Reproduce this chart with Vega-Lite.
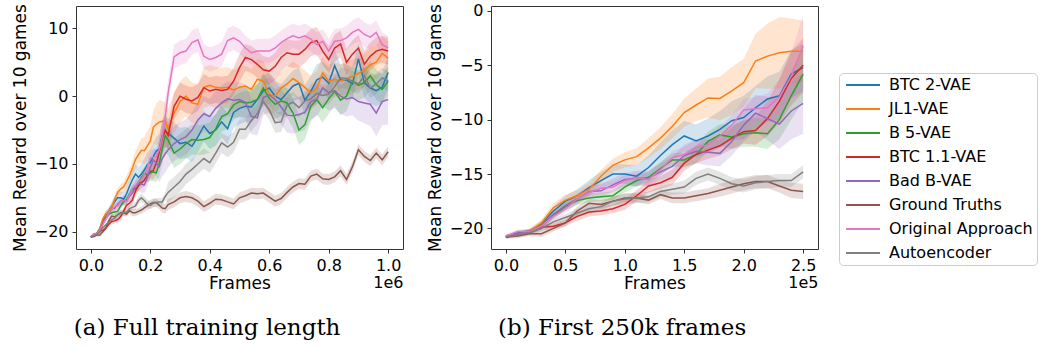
{
  "$schema": "https://vega.github.io/schema/vega-lite/v6.json",
  "background": "white",
  "padding": {"left": 10, "top": 2, "right": 0, "bottom": 0},
  "datasets": {
    "runs": [
{"s":"BTC 2-VAE","f":0,"m":-20.77,"lo":-20.92,"hi":-20.62},
{"s":"BTC 2-VAE","f":1,"m":-20.4,"lo":-20.6,"hi":-20.2},
{"s":"BTC 2-VAE","f":2,"m":-20.25,"lo":-20.45,"hi":-20.05},
{"s":"BTC 2-VAE","f":3,"m":-19.6,"lo":-19.9,"hi":-19.3},
{"s":"BTC 2-VAE","f":4,"m":-18.4,"lo":-18.8,"hi":-18.0},
{"s":"BTC 2-VAE","f":5,"m":-17.5,"lo":-18.0,"hi":-17.0},
{"s":"BTC 2-VAE","f":6,"m":-17.0,"lo":-17.6,"hi":-16.4},
{"s":"BTC 2-VAE","f":7,"m":-16.25,"lo":-16.95,"hi":-15.55},
{"s":"BTC 2-VAE","f":8,"m":-15.6,"lo":-16.4,"hi":-14.8},
{"s":"BTC 2-VAE","f":9,"m":-15.0,"lo":-15.9,"hi":-14.1},
{"s":"BTC 2-VAE","f":10,"m":-15.0,"lo":-15.9,"hi":-14.1},
{"s":"BTC 2-VAE","f":11,"m":-15.2,"lo":-16.2,"hi":-14.2},
{"s":"BTC 2-VAE","f":12,"m":-14.4,"lo":-15.5,"hi":-13.3},
{"s":"BTC 2-VAE","f":13,"m":-13.3,"lo":-14.5,"hi":-12.1},
{"s":"BTC 2-VAE","f":14,"m":-12.3,"lo":-13.6,"hi":-11.0},
{"s":"BTC 2-VAE","f":15,"m":-11.5,"lo":-12.9,"hi":-10.1},
{"s":"BTC 2-VAE","f":16,"m":-11.95,"lo":-13.45,"hi":-10.45},
{"s":"BTC 2-VAE","f":17,"m":-11.5,"lo":-13.1,"hi":-9.9},
{"s":"BTC 2-VAE","f":18,"m":-10.9,"lo":-12.6,"hi":-9.2},
{"s":"BTC 2-VAE","f":19,"m":-10.1,"lo":-11.9,"hi":-8.3},
{"s":"BTC 2-VAE","f":20,"m":-9.8,"lo":-11.8,"hi":-7.8},
{"s":"BTC 2-VAE","f":21,"m":-8.9,"lo":-10.9,"hi":-6.9},
{"s":"BTC 2-VAE","f":22,"m":-8.1,"lo":-10.2,"hi":-6.0},
{"s":"BTC 2-VAE","f":23,"m":-7.8,"lo":-10.0,"hi":-5.6},
{"s":"BTC 2-VAE","f":24,"m":-5.8,"lo":-8.0,"hi":-3.6},
{"s":"BTC 2-VAE","f":25,"m":-5.2,"lo":-7.4,"hi":-3.0},
{"s":"BTC 2-VAE","f":26,"m":-5.5,"lo":-7.8,"hi":-3.2},
{"s":"BTC 2-VAE","f":28,"m":-6.2,"lo":-8.5,"hi":-3.9},
{"s":"BTC 2-VAE","f":30,"m":-7.0,"lo":-9.3,"hi":-4.7},
{"s":"BTC 2-VAE","f":32,"m":-6.8,"lo":-9.1,"hi":-4.5},
{"s":"BTC 2-VAE","f":34,"m":-7.4,"lo":-9.7,"hi":-5.1},
{"s":"BTC 2-VAE","f":36,"m":-6.0,"lo":-8.3,"hi":-3.7},
{"s":"BTC 2-VAE","f":38,"m":-4.4,"lo":-6.7,"hi":-2.1},
{"s":"BTC 2-VAE","f":40,"m":-5.5,"lo":-7.8,"hi":-3.2},
{"s":"BTC 2-VAE","f":42,"m":-5.0,"lo":-7.3,"hi":-2.7},
{"s":"BTC 2-VAE","f":44,"m":-3.8,"lo":-6.1,"hi":-1.5},
{"s":"BTC 2-VAE","f":46,"m":-4.8,"lo":-7.1,"hi":-2.5},
{"s":"BTC 2-VAE","f":48,"m":-2.4,"lo":-4.7,"hi":-0.1},
{"s":"BTC 2-VAE","f":50,"m":-1.8,"lo":-4.1,"hi":0.5},
{"s":"BTC 2-VAE","f":52,"m":-1.5,"lo":-3.8,"hi":0.8},
{"s":"BTC 2-VAE","f":54,"m":-1.6,"lo":-3.9,"hi":0.7},
{"s":"BTC 2-VAE","f":56,"m":-0.5,"lo":-2.8,"hi":1.8},
{"s":"BTC 2-VAE","f":58,"m":0.8,"lo":-1.5,"hi":3.1},
{"s":"BTC 2-VAE","f":60,"m":1.2,"lo":-1.1,"hi":3.5},
{"s":"BTC 2-VAE","f":62,"m":0.0,"lo":-2.3,"hi":2.3},
{"s":"BTC 2-VAE","f":64,"m":-0.5,"lo":-2.8,"hi":1.8},
{"s":"BTC 2-VAE","f":66,"m":0.5,"lo":-1.8,"hi":2.8},
{"s":"BTC 2-VAE","f":68,"m":1.5,"lo":-0.8,"hi":3.8},
{"s":"BTC 2-VAE","f":70,"m":1.9,"lo":-0.4,"hi":4.2},
{"s":"BTC 2-VAE","f":72,"m":-0.6,"lo":-2.9,"hi":1.7},
{"s":"BTC 2-VAE","f":74,"m":0.7,"lo":-1.6,"hi":3.0},
{"s":"BTC 2-VAE","f":76,"m":2.4,"lo":0.1,"hi":4.7},
{"s":"BTC 2-VAE","f":78,"m":2.8,"lo":0.5,"hi":5.1},
{"s":"BTC 2-VAE","f":80,"m":1.9,"lo":-0.4,"hi":4.2},
{"s":"BTC 2-VAE","f":82,"m":4.5,"lo":2.2,"hi":6.8},
{"s":"BTC 2-VAE","f":84,"m":2.4,"lo":0.1,"hi":4.7},
{"s":"BTC 2-VAE","f":86,"m":2.4,"lo":0.1,"hi":4.7},
{"s":"BTC 2-VAE","f":88,"m":1.8,"lo":-0.5,"hi":4.1},
{"s":"BTC 2-VAE","f":90,"m":5.5,"lo":3.2,"hi":7.8},
{"s":"BTC 2-VAE","f":92,"m":2.0,"lo":-0.3,"hi":4.3},
{"s":"BTC 2-VAE","f":94,"m":1.2,"lo":-1.1,"hi":3.5},
{"s":"BTC 2-VAE","f":96,"m":0.8,"lo":-1.5,"hi":3.1},
{"s":"BTC 2-VAE","f":98,"m":1.3,"lo":-1.0,"hi":3.6},
{"s":"BTC 2-VAE","f":100,"m":3.5,"lo":1.2,"hi":5.8},
{"s":"JL1-VAE","f":0,"m":-20.77,"lo":-20.92,"hi":-20.62},
{"s":"JL1-VAE","f":1,"m":-20.55,"lo":-20.75,"hi":-20.35},
{"s":"JL1-VAE","f":2,"m":-20.25,"lo":-20.5,"hi":-20.0},
{"s":"JL1-VAE","f":3,"m":-19.5,"lo":-19.8,"hi":-19.2},
{"s":"JL1-VAE","f":4,"m":-18.1,"lo":-18.5,"hi":-17.7},
{"s":"JL1-VAE","f":5,"m":-17.4,"lo":-17.9,"hi":-16.9},
{"s":"JL1-VAE","f":6,"m":-17.0,"lo":-17.5,"hi":-16.5},
{"s":"JL1-VAE","f":7,"m":-16.4,"lo":-17.0,"hi":-15.8},
{"s":"JL1-VAE","f":8,"m":-15.2,"lo":-15.8,"hi":-14.6},
{"s":"JL1-VAE","f":9,"m":-14.2,"lo":-14.8,"hi":-13.6},
{"s":"JL1-VAE","f":10,"m":-13.7,"lo":-14.4,"hi":-13.0},
{"s":"JL1-VAE","f":11,"m":-13.4,"lo":-14.2,"hi":-12.6},
{"s":"JL1-VAE","f":12,"m":-12.6,"lo":-13.5,"hi":-11.7},
{"s":"JL1-VAE","f":13,"m":-11.7,"lo":-12.7,"hi":-10.7},
{"s":"JL1-VAE","f":14,"m":-10.6,"lo":-11.7,"hi":-9.5},
{"s":"JL1-VAE","f":15,"m":-9.35,"lo":-10.65,"hi":-8.05},
{"s":"JL1-VAE","f":16,"m":-8.65,"lo":-10.15,"hi":-7.15},
{"s":"JL1-VAE","f":17,"m":-8.0,"lo":-9.8,"hi":-6.2},
{"s":"JL1-VAE","f":18,"m":-8.05,"lo":-10.05,"hi":-6.05},
{"s":"JL1-VAE","f":19,"m":-7.35,"lo":-9.55,"hi":-5.15},
{"s":"JL1-VAE","f":20,"m":-6.6,"lo":-8.8,"hi":-4.4},
{"s":"JL1-VAE","f":21,"m":-4.6,"lo":-7.1,"hi":-2.1},
{"s":"JL1-VAE","f":22,"m":-4.15,"lo":-7.15,"hi":-1.15},
{"s":"JL1-VAE","f":23,"m":-3.85,"lo":-7.15,"hi":-0.55},
{"s":"JL1-VAE","f":24,"m":-3.7,"lo":-6.7,"hi":-0.7},
{"s":"JL1-VAE","f":25,"m":-3.7,"lo":-6.5,"hi":-0.9},
{"s":"JL1-VAE","f":26,"m":-4.8,"lo":-7.8,"hi":-1.8},
{"s":"JL1-VAE","f":28,"m":-2.5,"lo":-5.5,"hi":0.5},
{"s":"JL1-VAE","f":30,"m":-0.8,"lo":-3.8,"hi":2.2},
{"s":"JL1-VAE","f":32,"m":0.0,"lo":-3.0,"hi":3.0},
{"s":"JL1-VAE","f":34,"m":-1.0,"lo":-4.0,"hi":2.0},
{"s":"JL1-VAE","f":36,"m":-1.2,"lo":-4.2,"hi":1.8},
{"s":"JL1-VAE","f":38,"m":1.3,"lo":-1.7,"hi":4.3},
{"s":"JL1-VAE","f":40,"m":1.6,"lo":-1.4,"hi":4.6},
{"s":"JL1-VAE","f":42,"m":1.3,"lo":-1.7,"hi":4.3},
{"s":"JL1-VAE","f":44,"m":1.2,"lo":-1.8,"hi":4.2},
{"s":"JL1-VAE","f":46,"m":1.3,"lo":-1.7,"hi":4.3},
{"s":"JL1-VAE","f":48,"m":0.9,"lo":-2.1,"hi":3.9},
{"s":"JL1-VAE","f":50,"m":1.3,"lo":-1.7,"hi":4.3},
{"s":"JL1-VAE","f":52,"m":1.5,"lo":-1.5,"hi":4.5},
{"s":"JL1-VAE","f":54,"m":1.0,"lo":-2.0,"hi":4.0},
{"s":"JL1-VAE","f":56,"m":2.5,"lo":-0.5,"hi":5.5},
{"s":"JL1-VAE","f":58,"m":2.2,"lo":-0.8,"hi":5.2},
{"s":"JL1-VAE","f":60,"m":0.3,"lo":-2.7,"hi":3.3},
{"s":"JL1-VAE","f":62,"m":0.0,"lo":-2.5,"hi":2.5},
{"s":"JL1-VAE","f":64,"m":1.2,"lo":-1.3,"hi":3.7},
{"s":"JL1-VAE","f":66,"m":1.8,"lo":-0.7,"hi":4.3},
{"s":"JL1-VAE","f":68,"m":2.6,"lo":0.1,"hi":5.1},
{"s":"JL1-VAE","f":70,"m":2.0,"lo":-0.5,"hi":4.5},
{"s":"JL1-VAE","f":72,"m":1.3,"lo":-1.2,"hi":3.8},
{"s":"JL1-VAE","f":74,"m":0.5,"lo":-2.0,"hi":3.0},
{"s":"JL1-VAE","f":76,"m":1.2,"lo":-1.3,"hi":3.7},
{"s":"JL1-VAE","f":78,"m":3.4,"lo":0.9,"hi":5.9},
{"s":"JL1-VAE","f":80,"m":2.2,"lo":-0.3,"hi":4.7},
{"s":"JL1-VAE","f":82,"m":2.5,"lo":0.0,"hi":5.0},
{"s":"JL1-VAE","f":84,"m":2.2,"lo":-0.3,"hi":4.7},
{"s":"JL1-VAE","f":86,"m":2.6,"lo":0.1,"hi":5.1},
{"s":"JL1-VAE","f":88,"m":2.9,"lo":0.4,"hi":5.4},
{"s":"JL1-VAE","f":90,"m":3.4,"lo":0.9,"hi":5.9},
{"s":"JL1-VAE","f":92,"m":3.8,"lo":1.3,"hi":6.3},
{"s":"JL1-VAE","f":94,"m":4.6,"lo":2.1,"hi":7.1},
{"s":"JL1-VAE","f":96,"m":5.0,"lo":2.5,"hi":7.5},
{"s":"JL1-VAE","f":98,"m":6.3,"lo":3.8,"hi":8.8},
{"s":"JL1-VAE","f":100,"m":5.6,"lo":3.1,"hi":8.1},
{"s":"B 5-VAE","f":0,"m":-20.77,"lo":-20.92,"hi":-20.62},
{"s":"B 5-VAE","f":1,"m":-20.5,"lo":-20.7,"hi":-20.3},
{"s":"B 5-VAE","f":2,"m":-20.3,"lo":-20.5,"hi":-20.1},
{"s":"B 5-VAE","f":3,"m":-19.8,"lo":-20.1,"hi":-19.5},
{"s":"B 5-VAE","f":4,"m":-18.8,"lo":-19.1,"hi":-18.5},
{"s":"B 5-VAE","f":5,"m":-18.0,"lo":-18.4,"hi":-17.6},
{"s":"B 5-VAE","f":6,"m":-17.45,"lo":-17.85,"hi":-17.05},
{"s":"B 5-VAE","f":7,"m":-17.2,"lo":-17.6,"hi":-16.8},
{"s":"B 5-VAE","f":8,"m":-17.1,"lo":-17.5,"hi":-16.7},
{"s":"B 5-VAE","f":9,"m":-17.0,"lo":-17.4,"hi":-16.6},
{"s":"B 5-VAE","f":10,"m":-16.2,"lo":-16.7,"hi":-15.7},
{"s":"B 5-VAE","f":11,"m":-15.6,"lo":-16.1,"hi":-15.1},
{"s":"B 5-VAE","f":12,"m":-15.3,"lo":-15.8,"hi":-14.8},
{"s":"B 5-VAE","f":13,"m":-14.5,"lo":-15.1,"hi":-13.9},
{"s":"B 5-VAE","f":14,"m":-13.7,"lo":-14.3,"hi":-13.1},
{"s":"B 5-VAE","f":15,"m":-13.7,"lo":-14.4,"hi":-13.0},
{"s":"B 5-VAE","f":16,"m":-13.2,"lo":-14.0,"hi":-12.4},
{"s":"B 5-VAE","f":17,"m":-12.0,"lo":-12.9,"hi":-11.1},
{"s":"B 5-VAE","f":18,"m":-11.4,"lo":-12.4,"hi":-10.4},
{"s":"B 5-VAE","f":19,"m":-11.6,"lo":-12.7,"hi":-10.5},
{"s":"B 5-VAE","f":20,"m":-11.3,"lo":-12.5,"hi":-10.1},
{"s":"B 5-VAE","f":21,"m":-11.2,"lo":-12.5,"hi":-9.9},
{"s":"B 5-VAE","f":22,"m":-11.3,"lo":-12.7,"hi":-9.9},
{"s":"B 5-VAE","f":23,"m":-10.0,"lo":-11.8,"hi":-8.2},
{"s":"B 5-VAE","f":24,"m":-7.8,"lo":-10.0,"hi":-5.6},
{"s":"B 5-VAE","f":25,"m":-5.8,"lo":-8.3,"hi":-3.3},
{"s":"B 5-VAE","f":26,"m":-6.5,"lo":-8.7,"hi":-4.3},
{"s":"B 5-VAE","f":28,"m":-8.4,"lo":-10.6,"hi":-6.2},
{"s":"B 5-VAE","f":30,"m":-7.8,"lo":-10.0,"hi":-5.6},
{"s":"B 5-VAE","f":32,"m":-7.0,"lo":-9.2,"hi":-4.8},
{"s":"B 5-VAE","f":34,"m":-6.4,"lo":-8.6,"hi":-4.2},
{"s":"B 5-VAE","f":36,"m":-6.5,"lo":-8.7,"hi":-4.3},
{"s":"B 5-VAE","f":38,"m":-6.4,"lo":-8.6,"hi":-4.2},
{"s":"B 5-VAE","f":40,"m":-6.1,"lo":-8.3,"hi":-3.9},
{"s":"B 5-VAE","f":42,"m":-4.8,"lo":-7.0,"hi":-2.6},
{"s":"B 5-VAE","f":44,"m":-3.0,"lo":-5.2,"hi":-0.8},
{"s":"B 5-VAE","f":46,"m":-2.6,"lo":-4.8,"hi":-0.4},
{"s":"B 5-VAE","f":48,"m":-1.3,"lo":-3.5,"hi":0.9},
{"s":"B 5-VAE","f":50,"m":-0.8,"lo":-3.0,"hi":1.4},
{"s":"B 5-VAE","f":52,"m":-1.0,"lo":-3.2,"hi":1.2},
{"s":"B 5-VAE","f":54,"m":-0.9,"lo":-3.1,"hi":1.3},
{"s":"B 5-VAE","f":56,"m":-0.5,"lo":-2.7,"hi":1.7},
{"s":"B 5-VAE","f":58,"m":1.2,"lo":-1.0,"hi":3.4},
{"s":"B 5-VAE","f":60,"m":-0.3,"lo":-2.5,"hi":1.9},
{"s":"B 5-VAE","f":62,"m":-1.2,"lo":-3.4,"hi":1.0},
{"s":"B 5-VAE","f":64,"m":-0.7,"lo":-2.9,"hi":1.5},
{"s":"B 5-VAE","f":66,"m":-1.0,"lo":-3.2,"hi":1.2},
{"s":"B 5-VAE","f":68,"m":-2.5,"lo":-4.7,"hi":-0.3},
{"s":"B 5-VAE","f":70,"m":-5.0,"lo":-7.2,"hi":-2.8},
{"s":"B 5-VAE","f":72,"m":-4.2,"lo":-6.4,"hi":-2.0},
{"s":"B 5-VAE","f":74,"m":-1.5,"lo":-3.7,"hi":0.7},
{"s":"B 5-VAE","f":76,"m":-0.5,"lo":-2.7,"hi":1.7},
{"s":"B 5-VAE","f":78,"m":-1.7,"lo":-3.9,"hi":0.5},
{"s":"B 5-VAE","f":80,"m":-0.4,"lo":-2.6,"hi":1.8},
{"s":"B 5-VAE","f":82,"m":0.7,"lo":-1.5,"hi":2.9},
{"s":"B 5-VAE","f":84,"m":-0.6,"lo":-2.8,"hi":1.6},
{"s":"B 5-VAE","f":86,"m":0.0,"lo":-2.2,"hi":2.2},
{"s":"B 5-VAE","f":88,"m":2.2,"lo":0.0,"hi":4.4},
{"s":"B 5-VAE","f":90,"m":1.6,"lo":-0.6,"hi":3.8},
{"s":"B 5-VAE","f":92,"m":2.0,"lo":-0.2,"hi":4.2},
{"s":"B 5-VAE","f":94,"m":3.0,"lo":0.8,"hi":5.2},
{"s":"B 5-VAE","f":96,"m":1.7,"lo":-0.5,"hi":3.9},
{"s":"B 5-VAE","f":98,"m":1.0,"lo":-1.2,"hi":3.2},
{"s":"B 5-VAE","f":100,"m":2.2,"lo":0.0,"hi":4.4},
{"s":"BTC 1.1-VAE","f":0,"m":-20.77,"lo":-20.92,"hi":-20.62},
{"s":"BTC 1.1-VAE","f":1,"m":-20.5,"lo":-20.7,"hi":-20.3},
{"s":"BTC 1.1-VAE","f":2,"m":-20.3,"lo":-20.5,"hi":-20.1},
{"s":"BTC 1.1-VAE","f":3,"m":-19.9,"lo":-20.2,"hi":-19.6},
{"s":"BTC 1.1-VAE","f":4,"m":-19.8,"lo":-20.1,"hi":-19.5},
{"s":"BTC 1.1-VAE","f":5,"m":-19.5,"lo":-19.8,"hi":-19.2},
{"s":"BTC 1.1-VAE","f":6,"m":-18.9,"lo":-19.3,"hi":-18.5},
{"s":"BTC 1.1-VAE","f":7,"m":-18.5,"lo":-18.9,"hi":-18.1},
{"s":"BTC 1.1-VAE","f":8,"m":-18.4,"lo":-18.8,"hi":-18.0},
{"s":"BTC 1.1-VAE","f":9,"m":-18.2,"lo":-18.6,"hi":-17.8},
{"s":"BTC 1.1-VAE","f":10,"m":-17.8,"lo":-18.3,"hi":-17.3},
{"s":"BTC 1.1-VAE","f":11,"m":-17.0,"lo":-17.5,"hi":-16.5},
{"s":"BTC 1.1-VAE","f":12,"m":-16.1,"lo":-16.7,"hi":-15.5},
{"s":"BTC 1.1-VAE","f":13,"m":-15.8,"lo":-16.4,"hi":-15.2},
{"s":"BTC 1.1-VAE","f":14,"m":-15.3,"lo":-16.0,"hi":-14.6},
{"s":"BTC 1.1-VAE","f":15,"m":-14.0,"lo":-14.7,"hi":-13.3},
{"s":"BTC 1.1-VAE","f":16,"m":-13.2,"lo":-14.0,"hi":-12.4},
{"s":"BTC 1.1-VAE","f":17,"m":-12.8,"lo":-13.6,"hi":-12.0},
{"s":"BTC 1.1-VAE","f":18,"m":-12.4,"lo":-13.3,"hi":-11.5},
{"s":"BTC 1.1-VAE","f":19,"m":-11.7,"lo":-12.7,"hi":-10.7},
{"s":"BTC 1.1-VAE","f":20,"m":-11.1,"lo":-12.2,"hi":-10.0},
{"s":"BTC 1.1-VAE","f":21,"m":-11.0,"lo":-12.3,"hi":-9.7},
{"s":"BTC 1.1-VAE","f":22,"m":-9.9,"lo":-11.5,"hi":-8.3},
{"s":"BTC 1.1-VAE","f":23,"m":-8.3,"lo":-10.3,"hi":-6.3},
{"s":"BTC 1.1-VAE","f":24,"m":-6.2,"lo":-8.7,"hi":-3.7},
{"s":"BTC 1.1-VAE","f":25,"m":-5.0,"lo":-7.5,"hi":-2.5},
{"s":"BTC 1.1-VAE","f":26,"m":-5.8,"lo":-7.8,"hi":-3.8},
{"s":"BTC 1.1-VAE","f":28,"m":-1.5,"lo":-3.5,"hi":0.5},
{"s":"BTC 1.1-VAE","f":30,"m":0.0,"lo":-2.0,"hi":2.0},
{"s":"BTC 1.1-VAE","f":32,"m":-0.45,"lo":-2.45,"hi":1.55},
{"s":"BTC 1.1-VAE","f":34,"m":-0.7,"lo":-2.7,"hi":1.3},
{"s":"BTC 1.1-VAE","f":36,"m":-0.2,"lo":-2.2,"hi":1.8},
{"s":"BTC 1.1-VAE","f":38,"m":1.25,"lo":-0.75,"hi":3.25},
{"s":"BTC 1.1-VAE","f":40,"m":0.75,"lo":-1.25,"hi":2.75},
{"s":"BTC 1.1-VAE","f":42,"m":1.0,"lo":-1.0,"hi":3.0},
{"s":"BTC 1.1-VAE","f":44,"m":0.85,"lo":-1.15,"hi":2.85},
{"s":"BTC 1.1-VAE","f":46,"m":1.0,"lo":-1.0,"hi":3.0},
{"s":"BTC 1.1-VAE","f":48,"m":2.2,"lo":0.2,"hi":4.2},
{"s":"BTC 1.1-VAE","f":50,"m":4.2,"lo":2.2,"hi":6.2},
{"s":"BTC 1.1-VAE","f":52,"m":5.7,"lo":3.7,"hi":7.7},
{"s":"BTC 1.1-VAE","f":54,"m":5.4,"lo":3.4,"hi":7.4},
{"s":"BTC 1.1-VAE","f":56,"m":4.7,"lo":2.7,"hi":6.7},
{"s":"BTC 1.1-VAE","f":58,"m":3.9,"lo":1.9,"hi":5.9},
{"s":"BTC 1.1-VAE","f":60,"m":3.7,"lo":1.7,"hi":5.7},
{"s":"BTC 1.1-VAE","f":62,"m":4.4,"lo":2.4,"hi":6.4},
{"s":"BTC 1.1-VAE","f":64,"m":5.7,"lo":3.7,"hi":7.7},
{"s":"BTC 1.1-VAE","f":66,"m":6.4,"lo":4.4,"hi":8.4},
{"s":"BTC 1.1-VAE","f":68,"m":6.2,"lo":4.2,"hi":8.2},
{"s":"BTC 1.1-VAE","f":70,"m":6.2,"lo":4.2,"hi":8.2},
{"s":"BTC 1.1-VAE","f":72,"m":6.9,"lo":4.9,"hi":8.9},
{"s":"BTC 1.1-VAE","f":74,"m":7.9,"lo":5.9,"hi":9.9},
{"s":"BTC 1.1-VAE","f":76,"m":8.2,"lo":6.2,"hi":10.2},
{"s":"BTC 1.1-VAE","f":78,"m":6.65,"lo":4.65,"hi":8.65},
{"s":"BTC 1.1-VAE","f":80,"m":5.4,"lo":3.4,"hi":7.4},
{"s":"BTC 1.1-VAE","f":82,"m":7.1,"lo":5.1,"hi":9.1},
{"s":"BTC 1.1-VAE","f":84,"m":7.7,"lo":5.7,"hi":9.7},
{"s":"BTC 1.1-VAE","f":86,"m":5.0,"lo":3.0,"hi":7.0},
{"s":"BTC 1.1-VAE","f":88,"m":6.2,"lo":4.2,"hi":8.2},
{"s":"BTC 1.1-VAE","f":90,"m":7.1,"lo":5.1,"hi":9.1},
{"s":"BTC 1.1-VAE","f":92,"m":4.7,"lo":2.7,"hi":6.7},
{"s":"BTC 1.1-VAE","f":94,"m":5.9,"lo":3.9,"hi":7.9},
{"s":"BTC 1.1-VAE","f":96,"m":6.65,"lo":4.65,"hi":8.65},
{"s":"BTC 1.1-VAE","f":98,"m":6.9,"lo":4.9,"hi":8.9},
{"s":"BTC 1.1-VAE","f":100,"m":6.65,"lo":4.65,"hi":8.65},
{"s":"Bad B-VAE","f":0,"m":-20.77,"lo":-20.92,"hi":-20.62},
{"s":"Bad B-VAE","f":1,"m":-20.5,"lo":-20.7,"hi":-20.3},
{"s":"Bad B-VAE","f":2,"m":-20.3,"lo":-20.5,"hi":-20.1},
{"s":"Bad B-VAE","f":3,"m":-19.8,"lo":-20.1,"hi":-19.5},
{"s":"Bad B-VAE","f":4,"m":-18.7,"lo":-19.1,"hi":-18.3},
{"s":"Bad B-VAE","f":5,"m":-17.9,"lo":-18.3,"hi":-17.5},
{"s":"Bad B-VAE","f":6,"m":-17.3,"lo":-17.8,"hi":-16.8},
{"s":"Bad B-VAE","f":7,"m":-16.6,"lo":-17.1,"hi":-16.1},
{"s":"Bad B-VAE","f":8,"m":-16.55,"lo":-17.15,"hi":-15.95},
{"s":"Bad B-VAE","f":9,"m":-16.0,"lo":-16.6,"hi":-15.4},
{"s":"Bad B-VAE","f":10,"m":-15.5,"lo":-16.1,"hi":-14.9},
{"s":"Bad B-VAE","f":11,"m":-15.4,"lo":-16.1,"hi":-14.7},
{"s":"Bad B-VAE","f":12,"m":-15.4,"lo":-16.1,"hi":-14.7},
{"s":"Bad B-VAE","f":13,"m":-14.8,"lo":-15.6,"hi":-14.0},
{"s":"Bad B-VAE","f":14,"m":-14.3,"lo":-15.2,"hi":-13.4},
{"s":"Bad B-VAE","f":15,"m":-13.3,"lo":-14.3,"hi":-12.3},
{"s":"Bad B-VAE","f":16,"m":-12.9,"lo":-14.0,"hi":-11.8},
{"s":"Bad B-VAE","f":17,"m":-13.0,"lo":-14.2,"hi":-11.8},
{"s":"Bad B-VAE","f":18,"m":-13.1,"lo":-14.3,"hi":-11.9},
{"s":"Bad B-VAE","f":19,"m":-12.0,"lo":-13.3,"hi":-10.7},
{"s":"Bad B-VAE","f":20,"m":-10.5,"lo":-12.0,"hi":-9.0},
{"s":"Bad B-VAE","f":21,"m":-9.4,"lo":-11.1,"hi":-7.7},
{"s":"Bad B-VAE","f":22,"m":-9.9,"lo":-11.9,"hi":-7.9},
{"s":"Bad B-VAE","f":23,"m":-10.4,"lo":-12.7,"hi":-8.1},
{"s":"Bad B-VAE","f":24,"m":-9.2,"lo":-11.8,"hi":-6.6},
{"s":"Bad B-VAE","f":25,"m":-8.5,"lo":-11.3,"hi":-5.7},
{"s":"Bad B-VAE","f":26,"m":-7.9,"lo":-10.5,"hi":-5.3},
{"s":"Bad B-VAE","f":28,"m":-7.0,"lo":-9.6,"hi":-4.4},
{"s":"Bad B-VAE","f":30,"m":-6.4,"lo":-9.0,"hi":-3.8},
{"s":"Bad B-VAE","f":32,"m":-6.0,"lo":-8.6,"hi":-3.4},
{"s":"Bad B-VAE","f":34,"m":-5.0,"lo":-7.6,"hi":-2.4},
{"s":"Bad B-VAE","f":36,"m":-3.5,"lo":-6.1,"hi":-0.9},
{"s":"Bad B-VAE","f":38,"m":-2.6,"lo":-5.2,"hi":0.0},
{"s":"Bad B-VAE","f":40,"m":-3.0,"lo":-5.6,"hi":-0.4},
{"s":"Bad B-VAE","f":42,"m":-1.8,"lo":-4.4,"hi":0.8},
{"s":"Bad B-VAE","f":44,"m":-1.0,"lo":-3.6,"hi":1.6},
{"s":"Bad B-VAE","f":46,"m":-0.4,"lo":-3.0,"hi":2.2},
{"s":"Bad B-VAE","f":48,"m":-0.6,"lo":-3.2,"hi":2.0},
{"s":"Bad B-VAE","f":50,"m":-0.5,"lo":-3.1,"hi":2.1},
{"s":"Bad B-VAE","f":52,"m":-0.9,"lo":-3.5,"hi":1.7},
{"s":"Bad B-VAE","f":54,"m":-3.0,"lo":-5.6,"hi":-0.4},
{"s":"Bad B-VAE","f":56,"m":-3.2,"lo":-5.8,"hi":-0.6},
{"s":"Bad B-VAE","f":58,"m":-0.2,"lo":-2.8,"hi":2.4},
{"s":"Bad B-VAE","f":60,"m":0.2,"lo":-2.4,"hi":2.8},
{"s":"Bad B-VAE","f":62,"m":-0.5,"lo":-3.1,"hi":2.1},
{"s":"Bad B-VAE","f":64,"m":-1.6,"lo":-4.2,"hi":1.0},
{"s":"Bad B-VAE","f":66,"m":-2.8,"lo":-5.4,"hi":-0.2},
{"s":"Bad B-VAE","f":68,"m":-2.9,"lo":-5.5,"hi":-0.3},
{"s":"Bad B-VAE","f":70,"m":-2.7,"lo":-5.3,"hi":-0.1},
{"s":"Bad B-VAE","f":72,"m":-2.4,"lo":-5.0,"hi":0.2},
{"s":"Bad B-VAE","f":74,"m":-0.8,"lo":-3.4,"hi":1.8},
{"s":"Bad B-VAE","f":76,"m":-0.4,"lo":-3.0,"hi":2.2},
{"s":"Bad B-VAE","f":78,"m":1.2,"lo":-1.4,"hi":3.8},
{"s":"Bad B-VAE","f":80,"m":0.5,"lo":-2.1,"hi":3.1},
{"s":"Bad B-VAE","f":82,"m":0.8,"lo":-1.8,"hi":3.4},
{"s":"Bad B-VAE","f":84,"m":0.0,"lo":-2.6,"hi":2.6},
{"s":"Bad B-VAE","f":86,"m":-0.4,"lo":-3.0,"hi":2.2},
{"s":"Bad B-VAE","f":88,"m":-0.2,"lo":-2.8,"hi":2.4},
{"s":"Bad B-VAE","f":90,"m":-0.8,"lo":-3.6,"hi":2.0},
{"s":"Bad B-VAE","f":92,"m":-1.0,"lo":-4.0,"hi":2.0},
{"s":"Bad B-VAE","f":94,"m":-1.2,"lo":-4.4,"hi":2.0},
{"s":"Bad B-VAE","f":96,"m":-2.5,"lo":-5.9,"hi":0.9},
{"s":"Bad B-VAE","f":98,"m":-0.8,"lo":-4.3,"hi":2.7},
{"s":"Bad B-VAE","f":100,"m":-0.5,"lo":-4.2,"hi":3.2},
{"s":"Ground Truths","f":0,"m":-20.8,"lo":-20.95,"hi":-20.65},
{"s":"Ground Truths","f":1,"m":-20.7,"lo":-20.9,"hi":-20.5},
{"s":"Ground Truths","f":2,"m":-20.5,"lo":-20.7,"hi":-20.3},
{"s":"Ground Truths","f":3,"m":-20.5,"lo":-20.8,"hi":-20.2},
{"s":"Ground Truths","f":4,"m":-20.0,"lo":-20.3,"hi":-19.7},
{"s":"Ground Truths","f":5,"m":-19.5,"lo":-19.8,"hi":-19.2},
{"s":"Ground Truths","f":6,"m":-18.4,"lo":-18.8,"hi":-18.0},
{"s":"Ground Truths","f":7,"m":-17.7,"lo":-18.1,"hi":-17.3},
{"s":"Ground Truths","f":8,"m":-17.8,"lo":-18.2,"hi":-17.4},
{"s":"Ground Truths","f":9,"m":-17.5,"lo":-17.9,"hi":-17.1},
{"s":"Ground Truths","f":10,"m":-17.2,"lo":-17.6,"hi":-16.8},
{"s":"Ground Truths","f":11,"m":-17.2,"lo":-17.6,"hi":-16.8},
{"s":"Ground Truths","f":12,"m":-17.4,"lo":-17.8,"hi":-17.0},
{"s":"Ground Truths","f":13,"m":-16.9,"lo":-17.3,"hi":-16.5},
{"s":"Ground Truths","f":14,"m":-17.2,"lo":-17.7,"hi":-16.7},
{"s":"Ground Truths","f":15,"m":-17.2,"lo":-17.7,"hi":-16.7},
{"s":"Ground Truths","f":16,"m":-17.0,"lo":-17.5,"hi":-16.5},
{"s":"Ground Truths","f":17,"m":-16.8,"lo":-17.3,"hi":-16.3},
{"s":"Ground Truths","f":18,"m":-16.5,"lo":-17.1,"hi":-15.9},
{"s":"Ground Truths","f":19,"m":-16.2,"lo":-16.8,"hi":-15.6},
{"s":"Ground Truths","f":20,"m":-15.9,"lo":-16.5,"hi":-15.3},
{"s":"Ground Truths","f":21,"m":-15.7,"lo":-16.3,"hi":-15.1},
{"s":"Ground Truths","f":22,"m":-15.7,"lo":-16.3,"hi":-15.1},
{"s":"Ground Truths","f":23,"m":-16.1,"lo":-16.7,"hi":-15.5},
{"s":"Ground Truths","f":24,"m":-16.5,"lo":-17.2,"hi":-15.8},
{"s":"Ground Truths","f":25,"m":-16.6,"lo":-17.3,"hi":-15.9},
{"s":"Ground Truths","f":26,"m":-16.0,"lo":-16.8,"hi":-15.2},
{"s":"Ground Truths","f":28,"m":-15.6,"lo":-16.4,"hi":-14.8},
{"s":"Ground Truths","f":30,"m":-15.0,"lo":-15.8,"hi":-14.2},
{"s":"Ground Truths","f":32,"m":-14.8,"lo":-15.6,"hi":-14.0},
{"s":"Ground Truths","f":34,"m":-15.0,"lo":-15.8,"hi":-14.2},
{"s":"Ground Truths","f":36,"m":-15.5,"lo":-16.3,"hi":-14.7},
{"s":"Ground Truths","f":38,"m":-16.3,"lo":-17.1,"hi":-15.5},
{"s":"Ground Truths","f":40,"m":-15.8,"lo":-16.6,"hi":-15.0},
{"s":"Ground Truths","f":42,"m":-15.2,"lo":-16.0,"hi":-14.4},
{"s":"Ground Truths","f":44,"m":-15.3,"lo":-16.1,"hi":-14.5},
{"s":"Ground Truths","f":46,"m":-15.6,"lo":-16.4,"hi":-14.8},
{"s":"Ground Truths","f":48,"m":-15.9,"lo":-16.7,"hi":-15.1},
{"s":"Ground Truths","f":50,"m":-15.0,"lo":-15.8,"hi":-14.2},
{"s":"Ground Truths","f":52,"m":-14.7,"lo":-15.5,"hi":-13.9},
{"s":"Ground Truths","f":54,"m":-14.3,"lo":-15.1,"hi":-13.5},
{"s":"Ground Truths","f":56,"m":-14.4,"lo":-15.2,"hi":-13.6},
{"s":"Ground Truths","f":58,"m":-14.3,"lo":-15.1,"hi":-13.5},
{"s":"Ground Truths","f":60,"m":-14.9,"lo":-15.7,"hi":-14.1},
{"s":"Ground Truths","f":62,"m":-15.5,"lo":-16.3,"hi":-14.7},
{"s":"Ground Truths","f":64,"m":-15.1,"lo":-15.9,"hi":-14.3},
{"s":"Ground Truths","f":66,"m":-14.2,"lo":-15.0,"hi":-13.4},
{"s":"Ground Truths","f":68,"m":-13.4,"lo":-14.2,"hi":-12.6},
{"s":"Ground Truths","f":70,"m":-12.9,"lo":-13.7,"hi":-12.1},
{"s":"Ground Truths","f":72,"m":-13.0,"lo":-13.8,"hi":-12.2},
{"s":"Ground Truths","f":74,"m":-11.8,"lo":-12.6,"hi":-11.0},
{"s":"Ground Truths","f":76,"m":-11.5,"lo":-12.3,"hi":-10.7},
{"s":"Ground Truths","f":78,"m":-12.2,"lo":-13.0,"hi":-11.4},
{"s":"Ground Truths","f":80,"m":-12.3,"lo":-13.1,"hi":-11.5},
{"s":"Ground Truths","f":82,"m":-11.9,"lo":-12.7,"hi":-11.1},
{"s":"Ground Truths","f":84,"m":-11.0,"lo":-11.8,"hi":-10.2},
{"s":"Ground Truths","f":86,"m":-12.3,"lo":-13.1,"hi":-11.5},
{"s":"Ground Truths","f":88,"m":-10.4,"lo":-11.2,"hi":-9.6},
{"s":"Ground Truths","f":90,"m":-7.9,"lo":-8.7,"hi":-7.1},
{"s":"Ground Truths","f":92,"m":-8.9,"lo":-9.7,"hi":-8.1},
{"s":"Ground Truths","f":94,"m":-9.5,"lo":-10.3,"hi":-8.7},
{"s":"Ground Truths","f":96,"m":-8.4,"lo":-9.2,"hi":-7.6},
{"s":"Ground Truths","f":98,"m":-9.4,"lo":-10.2,"hi":-8.6},
{"s":"Ground Truths","f":100,"m":-8.2,"lo":-9.0,"hi":-7.4},
{"s":"Original Approach","f":0,"m":-20.7,"lo":-20.85,"hi":-20.55},
{"s":"Original Approach","f":1,"m":-20.3,"lo":-20.5,"hi":-20.1},
{"s":"Original Approach","f":2,"m":-20.3,"lo":-20.5,"hi":-20.1},
{"s":"Original Approach","f":3,"m":-19.8,"lo":-20.1,"hi":-19.5},
{"s":"Original Approach","f":4,"m":-18.9,"lo":-19.2,"hi":-18.6},
{"s":"Original Approach","f":5,"m":-18.2,"lo":-18.6,"hi":-17.8},
{"s":"Original Approach","f":6,"m":-17.3,"lo":-17.7,"hi":-16.9},
{"s":"Original Approach","f":7,"m":-16.7,"lo":-17.1,"hi":-16.3},
{"s":"Original Approach","f":8,"m":-16.3,"lo":-16.8,"hi":-15.8},
{"s":"Original Approach","f":9,"m":-16.2,"lo":-16.7,"hi":-15.7},
{"s":"Original Approach","f":10,"m":-15.6,"lo":-16.1,"hi":-15.1},
{"s":"Original Approach","f":11,"m":-15.4,"lo":-15.9,"hi":-14.9},
{"s":"Original Approach","f":12,"m":-15.5,"lo":-16.1,"hi":-14.9},
{"s":"Original Approach","f":13,"m":-14.6,"lo":-15.2,"hi":-14.0},
{"s":"Original Approach","f":14,"m":-13.5,"lo":-14.1,"hi":-12.9},
{"s":"Original Approach","f":15,"m":-13.2,"lo":-13.9,"hi":-12.5},
{"s":"Original Approach","f":16,"m":-12.6,"lo":-13.3,"hi":-11.9},
{"s":"Original Approach","f":17,"m":-12.3,"lo":-13.1,"hi":-11.5},
{"s":"Original Approach","f":18,"m":-11.5,"lo":-12.3,"hi":-10.7},
{"s":"Original Approach","f":19,"m":-10.5,"lo":-11.4,"hi":-9.6},
{"s":"Original Approach","f":20,"m":-9.1,"lo":-10.1,"hi":-8.1},
{"s":"Original Approach","f":21,"m":-9.0,"lo":-10.1,"hi":-7.9},
{"s":"Original Approach","f":22,"m":-8.9,"lo":-10.2,"hi":-7.6},
{"s":"Original Approach","f":23,"m":-7.9,"lo":-9.5,"hi":-6.3},
{"s":"Original Approach","f":24,"m":-6.0,"lo":-8.2,"hi":-3.8},
{"s":"Original Approach","f":25,"m":-3.2,"lo":-6.0,"hi":-0.4},
{"s":"Original Approach","f":26,"m":0.5,"lo":-1.3,"hi":2.3},
{"s":"Original Approach","f":28,"m":5.8,"lo":4.0,"hi":7.6},
{"s":"Original Approach","f":30,"m":6.4,"lo":4.6,"hi":8.2},
{"s":"Original Approach","f":32,"m":6.65,"lo":4.85,"hi":8.45},
{"s":"Original Approach","f":34,"m":7.9,"lo":6.1,"hi":9.7},
{"s":"Original Approach","f":36,"m":8.3,"lo":6.5,"hi":10.1},
{"s":"Original Approach","f":38,"m":5.9,"lo":4.1,"hi":7.7},
{"s":"Original Approach","f":40,"m":5.4,"lo":3.6,"hi":7.2},
{"s":"Original Approach","f":42,"m":5.7,"lo":3.9,"hi":7.5},
{"s":"Original Approach","f":44,"m":6.2,"lo":4.4,"hi":8.0},
{"s":"Original Approach","f":46,"m":8.2,"lo":6.4,"hi":10.0},
{"s":"Original Approach","f":48,"m":8.6,"lo":6.8,"hi":10.4},
{"s":"Original Approach","f":50,"m":8.1,"lo":6.3,"hi":9.9},
{"s":"Original Approach","f":52,"m":7.1,"lo":5.3,"hi":8.9},
{"s":"Original Approach","f":54,"m":6.4,"lo":4.6,"hi":8.2},
{"s":"Original Approach","f":56,"m":6.65,"lo":4.85,"hi":8.45},
{"s":"Original Approach","f":58,"m":6.65,"lo":4.85,"hi":8.45},
{"s":"Original Approach","f":60,"m":6.65,"lo":4.85,"hi":8.45},
{"s":"Original Approach","f":62,"m":7.1,"lo":5.3,"hi":8.9},
{"s":"Original Approach","f":64,"m":7.9,"lo":6.1,"hi":9.7},
{"s":"Original Approach","f":66,"m":8.5,"lo":6.7,"hi":10.3},
{"s":"Original Approach","f":68,"m":8.9,"lo":7.1,"hi":10.7},
{"s":"Original Approach","f":70,"m":8.6,"lo":6.8,"hi":10.4},
{"s":"Original Approach","f":72,"m":8.9,"lo":7.1,"hi":10.7},
{"s":"Original Approach","f":74,"m":8.4,"lo":6.6,"hi":10.2},
{"s":"Original Approach","f":76,"m":7.6,"lo":5.8,"hi":9.4},
{"s":"Original Approach","f":78,"m":8.1,"lo":6.3,"hi":9.9},
{"s":"Original Approach","f":80,"m":6.65,"lo":4.85,"hi":8.45},
{"s":"Original Approach","f":82,"m":8.1,"lo":6.3,"hi":9.9},
{"s":"Original Approach","f":84,"m":8.2,"lo":6.4,"hi":10.0},
{"s":"Original Approach","f":86,"m":8.6,"lo":6.8,"hi":10.4},
{"s":"Original Approach","f":88,"m":9.4,"lo":7.6,"hi":11.2},
{"s":"Original Approach","f":90,"m":9.85,"lo":8.05,"hi":11.65},
{"s":"Original Approach","f":92,"m":9.1,"lo":7.3,"hi":10.9},
{"s":"Original Approach","f":94,"m":8.7,"lo":6.9,"hi":10.5},
{"s":"Original Approach","f":96,"m":9.4,"lo":7.6,"hi":11.2},
{"s":"Original Approach","f":98,"m":7.6,"lo":5.8,"hi":9.4},
{"s":"Original Approach","f":100,"m":7.1,"lo":5.3,"hi":8.9},
{"s":"Autoencoder","f":0,"m":-20.77,"lo":-20.92,"hi":-20.62},
{"s":"Autoencoder","f":1,"m":-20.6,"lo":-20.8,"hi":-20.4},
{"s":"Autoencoder","f":2,"m":-20.4,"lo":-20.6,"hi":-20.2},
{"s":"Autoencoder","f":3,"m":-20.0,"lo":-20.3,"hi":-19.7},
{"s":"Autoencoder","f":4,"m":-19.4,"lo":-19.7,"hi":-19.1},
{"s":"Autoencoder","f":5,"m":-19.0,"lo":-19.3,"hi":-18.7},
{"s":"Autoencoder","f":6,"m":-18.6,"lo":-19.0,"hi":-18.2},
{"s":"Autoencoder","f":7,"m":-18.2,"lo":-18.6,"hi":-17.8},
{"s":"Autoencoder","f":8,"m":-18.0,"lo":-18.4,"hi":-17.6},
{"s":"Autoencoder","f":9,"m":-17.5,"lo":-17.9,"hi":-17.1},
{"s":"Autoencoder","f":10,"m":-17.3,"lo":-17.8,"hi":-16.8},
{"s":"Autoencoder","f":11,"m":-17.2,"lo":-17.7,"hi":-16.7},
{"s":"Autoencoder","f":12,"m":-17.1,"lo":-17.6,"hi":-16.6},
{"s":"Autoencoder","f":13,"m":-16.6,"lo":-17.1,"hi":-16.1},
{"s":"Autoencoder","f":14,"m":-16.4,"lo":-16.9,"hi":-15.9},
{"s":"Autoencoder","f":15,"m":-16.2,"lo":-16.8,"hi":-15.6},
{"s":"Autoencoder","f":16,"m":-15.4,"lo":-16.0,"hi":-14.8},
{"s":"Autoencoder","f":17,"m":-15.0,"lo":-15.6,"hi":-14.4},
{"s":"Autoencoder","f":18,"m":-15.4,"lo":-16.0,"hi":-14.8},
{"s":"Autoencoder","f":19,"m":-15.9,"lo":-16.5,"hi":-15.3},
{"s":"Autoencoder","f":20,"m":-16.1,"lo":-16.7,"hi":-15.5},
{"s":"Autoencoder","f":21,"m":-15.8,"lo":-16.4,"hi":-15.2},
{"s":"Autoencoder","f":22,"m":-15.7,"lo":-16.3,"hi":-15.1},
{"s":"Autoencoder","f":23,"m":-15.6,"lo":-16.2,"hi":-15.0},
{"s":"Autoencoder","f":24,"m":-15.6,"lo":-16.2,"hi":-15.0},
{"s":"Autoencoder","f":25,"m":-14.8,"lo":-15.4,"hi":-14.2},
{"s":"Autoencoder","f":26,"m":-14.2,"lo":-15.7,"hi":-12.7},
{"s":"Autoencoder","f":28,"m":-13.4,"lo":-14.9,"hi":-11.9},
{"s":"Autoencoder","f":30,"m":-12.6,"lo":-14.1,"hi":-11.1},
{"s":"Autoencoder","f":32,"m":-11.5,"lo":-13.0,"hi":-10.0},
{"s":"Autoencoder","f":34,"m":-10.8,"lo":-12.3,"hi":-9.3},
{"s":"Autoencoder","f":36,"m":-10.0,"lo":-11.5,"hi":-8.5},
{"s":"Autoencoder","f":38,"m":-9.2,"lo":-10.7,"hi":-7.7},
{"s":"Autoencoder","f":40,"m":-9.8,"lo":-11.3,"hi":-8.3},
{"s":"Autoencoder","f":42,"m":-8.4,"lo":-9.9,"hi":-6.9},
{"s":"Autoencoder","f":44,"m":-6.9,"lo":-8.4,"hi":-5.4},
{"s":"Autoencoder","f":46,"m":-7.5,"lo":-9.0,"hi":-6.0},
{"s":"Autoencoder","f":48,"m":-6.8,"lo":-8.3,"hi":-5.3},
{"s":"Autoencoder","f":50,"m":-4.9,"lo":-6.4,"hi":-3.4},
{"s":"Autoencoder","f":52,"m":-4.9,"lo":-6.4,"hi":-3.4},
{"s":"Autoencoder","f":54,"m":-3.6,"lo":-5.1,"hi":-2.1},
{"s":"Autoencoder","f":56,"m":-2.6,"lo":-4.1,"hi":-1.1},
{"s":"Autoencoder","f":58,"m":-0.8,"lo":-2.3,"hi":0.7},
{"s":"Autoencoder","f":60,"m":-2.0,"lo":-3.5,"hi":-0.5},
{"s":"Autoencoder","f":62,"m":-3.9,"lo":-5.4,"hi":-2.4},
{"s":"Autoencoder","f":64,"m":-3.8,"lo":-5.3,"hi":-2.3},
{"s":"Autoencoder","f":66,"m":-1.3,"lo":-2.8,"hi":0.2},
{"s":"Autoencoder","f":68,"m":-0.9,"lo":-2.4,"hi":0.6},
{"s":"Autoencoder","f":70,"m":-1.7,"lo":-3.2,"hi":-0.2},
{"s":"Autoencoder","f":72,"m":-0.7,"lo":-2.2,"hi":0.8},
{"s":"Autoencoder","f":74,"m":-0.4,"lo":-1.9,"hi":1.1},
{"s":"Autoencoder","f":76,"m":0.4,"lo":-1.1,"hi":1.9},
{"s":"Autoencoder","f":78,"m":0.1,"lo":-1.4,"hi":1.6},
{"s":"Autoencoder","f":80,"m":0.3,"lo":-1.2,"hi":1.8},
{"s":"Autoencoder","f":82,"m":1.4,"lo":-0.1,"hi":2.9},
{"s":"Autoencoder","f":84,"m":2.7,"lo":1.2,"hi":4.2},
{"s":"Autoencoder","f":86,"m":2.6,"lo":1.1,"hi":4.1},
{"s":"Autoencoder","f":88,"m":2.2,"lo":0.7,"hi":3.7},
{"s":"Autoencoder","f":90,"m":1.8,"lo":0.3,"hi":3.3},
{"s":"Autoencoder","f":92,"m":3.0,"lo":1.5,"hi":4.5},
{"s":"Autoencoder","f":94,"m":1.2,"lo":-0.3,"hi":2.7},
{"s":"Autoencoder","f":96,"m":1.8,"lo":0.3,"hi":3.3},
{"s":"Autoencoder","f":98,"m":2.7,"lo":1.2,"hi":4.2},
{"s":"Autoencoder","f":100,"m":2.2,"lo":0.7,"hi":3.7}
    ]
  },
  "data": {"name": "runs"},
  "spacing": 88,
  "bounds": "flush",
  "hconcat": [
    {
      "width": 327,
      "height": 243,
      "title": {"text": "(a) Full training length", "orient": "bottom", "anchor": "middle", "frame": "bounds", "font": "DejaVu Serif", "fontSize": 23, "fontWeight": "normal", "color": "black", "offset": 26},
      "layer": [
        {
          "mark": {"type": "area", "opacity": 0.2},
          "encoding": {
            "x": {"field": "f", "type": "quantitative", "scale": {"domain": [-5, 105], "nice": false, "zero": false},
                  "axis": {"orient": "bottom", "title": "Frames", "values": [0, 20, 40, 60, 80, 100], "labelExpr": "format(datum.value/100, '.1f')"}},
            "y": {"field": "lo", "type": "quantitative", "scale": {"domain": [-22.55, 13.3], "nice": false, "zero": false},
                  "axis": {"title": "Mean Reward over 10 games", "values": [-20, -10, 0, 10]}},
            "y2": {"field": "hi"},
            "color": {"field": "s", "type": "nominal",
                      "scale": {"domain": ["BTC 2-VAE", "JL1-VAE", "B 5-VAE", "BTC 1.1-VAE", "Bad B-VAE", "Ground Truths", "Original Approach", "Autoencoder"],
                                "range": ["#1f77b4", "#ff7f0e", "#2ca02c", "#d62728", "#9467bd", "#8c564b", "#e377c2", "#7f7f7f"]}}
          }
        },
        {
          "mark": {"type": "line", "strokeWidth": 1.5},
          "encoding": {
            "x": {"field": "f", "type": "quantitative",
                  "axis": {"orient": "bottom", "title": "1e6", "labels": false, "ticks": false, "domain": false, "titleAnchor": "end", "titleFontSize": 16, "titlePadding": 25}},
            "y": {"field": "m", "type": "quantitative", "axis": {"title": "Mean Reward over 10 games", "values": [-20, -10, 0, 10]}},
            "color": {"field": "s", "type": "nominal"}
          }
        }
      ],
      "resolve": {"axis": {"x": "independent"}}
    },
    {
      "width": 327,
      "height": 243,
      "transform": [{"filter": "datum.f <= 25"}],
      "title": {"text": "(b) First 250k frames", "orient": "bottom", "anchor": "middle", "frame": "bounds", "font": "DejaVu Serif", "fontSize": 23, "fontWeight": "normal", "color": "black", "offset": 26},
      "layer": [
        {
          "mark": {"type": "area", "opacity": 0.2},
          "encoding": {
            "x": {"field": "f", "type": "quantitative", "scale": {"domain": [-1.25, 26.25], "nice": false, "zero": false},
                  "axis": {"orient": "bottom", "title": "Frames", "values": [0, 5, 10, 15, 20, 25], "labelExpr": "format(datum.value/10, '.1f')"}},
            "y": {"field": "lo", "type": "quantitative", "scale": {"domain": [-21.9, 0.46], "nice": false, "zero": false},
                  "axis": {"title": "Mean Reward over 10 games", "values": [-20, -15, -10, -5, 0]}},
            "y2": {"field": "hi"},
            "color": {"field": "s", "type": "nominal"}
          }
        },
        {
          "mark": {"type": "line", "strokeWidth": 1.5},
          "encoding": {
            "x": {"field": "f", "type": "quantitative",
                  "axis": {"orient": "bottom", "title": "1e5", "labels": false, "ticks": false, "domain": false, "titleAnchor": "end", "titleFontSize": 16, "titlePadding": 25}},
            "y": {"field": "m", "type": "quantitative", "axis": {"title": "Mean Reward over 10 games", "values": [-20, -15, -10, -5, 0]}},
            "color": {"field": "s", "type": "nominal"}
          }
        }
      ],
      "resolve": {"axis": {"x": "independent"}}
    }
  ],
  "config": {
    "font": "DejaVu Sans",
    "view": {"stroke": "#333", "strokeWidth": 1},
    "axis": {"domain": false, "grid": false, "tickColor": "#333", "tickSize": 4, "tickWidth": 1,
             "labelFont": "DejaVu Sans", "labelFontSize": 16, "labelColor": "black", "labelPadding": 4,
             "titleFont": "DejaVu Sans", "titleFontSize": 17, "titleFontWeight": "normal", "titleColor": "black", "titlePadding": 2},
    "axisY": {"titlePadding": 5},
    "legend": {"orient": "none", "legendX": 763, "legendY": 67, "title": null,
               "symbolType": "M-0.83,0L4.83,0", "symbolSize": 144, "symbolStrokeWidth": 2,
               "symbolFillColor": "transparent", "symbolOpacity": 1,
               "labelFont": "DejaVu Sans", "labelFontSize": 16, "labelColor": "black", "labelOffset": 30,
               "padding": 4, "rowPadding": 8, "strokeColor": "#ccc", "fillColor": "white", "cornerRadius": 4}
  }
}
